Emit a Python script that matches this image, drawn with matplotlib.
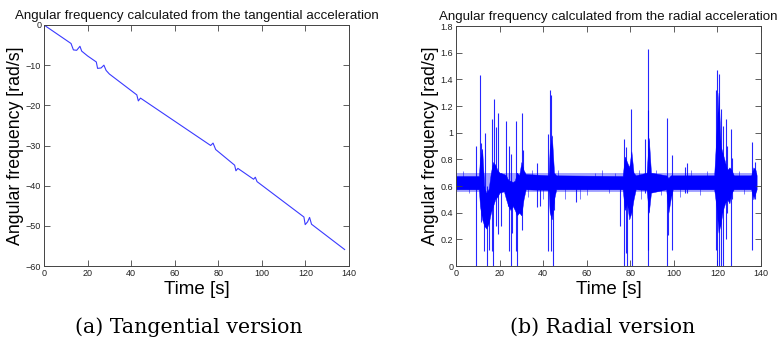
import matplotlib
matplotlib.use("Agg")
import matplotlib.pyplot as plt
import numpy as np

plt.rcParams['font.family'] = ['Liberation Sans', 'DejaVu Sans']

# ---------------- Data: tangential version ----------------
tan_t = [0, 12.4, 13.5, 15.0, 16.5, 17.3, 20, 24.0, 24.6, 26.2, 27.5, 28.5, 30,
         42.6, 43.3, 44.3, 76.5, 77.6, 78.8, 87.5, 88.1, 89.0, 96.2, 97.0, 97.8,
         119.3, 119.9, 121.0, 121.9, 122.8, 138]
tan_w = [0, -4.6, -6.2, -6.3, -5.3, -6.5, -7.7, -9.2, -10.8, -10.7, -10.0, -11.3, -12.2,
         -17.4, -18.9, -18.2, -30.0, -29.4, -31.0, -34.9, -36.3, -35.7, -38.4, -37.9, -39.0,
         -47.8, -49.7, -49.0, -47.9, -49.6, -55.9]

# ---------------- Data: radial version ----------------
# dense noise band (lower / upper envelope)
core_t = [0, 10.5, 11, 12, 13, 14, 15, 16, 17, 18, 19, 20, 22, 23, 24, 25, 26, 27, 28, 29,
          30, 31, 32, 42.5, 43, 44, 45, 46, 76.5, 77.5, 78.5, 79.5, 80.5, 81.5, 82.5,
          87.5, 88.5, 89.5, 96.5, 97.5, 98.5, 99.5, 118.5, 119.5, 120.5, 121.5, 122.5,
          123.5, 124.5, 125.5, 126.5, 127.5, 135.5, 136.5, 137.5, 138]
core_lo = [0.575, 0.575, 0.45, 0.35, 0.30, 0.28, 0.32, 0.40, 0.45, 0.50, 0.52, 0.55, 0.56,
           0.50, 0.45, 0.42, 0.45, 0.42, 0.38, 0.40, 0.38, 0.50, 0.575, 0.57, 0.40, 0.35,
           0.50, 0.575, 0.575, 0.42, 0.47, 0.35, 0.40, 0.50, 0.575, 0.57, 0.40, 0.55,
           0.575, 0.40, 0.50, 0.575, 0.575, 0.45, 0.25, 0.32, 0.42, 0.47, 0.50, 0.47,
           0.55, 0.575, 0.575, 0.50, 0.55, 0.575]
core_hi = [0.675, 0.675, 0.80, 0.88, 0.58, 0.55, 0.58, 0.70, 0.78, 0.76, 0.72, 0.70, 0.69,
           0.68, 0.64, 0.64, 0.63, 0.64, 0.70, 0.68, 0.78, 0.72, 0.69, 0.68, 0.88, 0.98,
           0.70, 0.68, 0.675, 0.82, 0.78, 0.74, 0.86, 0.70, 0.68, 0.70, 0.96, 0.70,
           0.68, 0.66, 0.68, 0.68, 0.68, 0.98, 1.30, 0.90, 0.84, 0.78, 0.72, 0.74,
           0.72, 0.68, 0.68, 0.74, 0.72, 0.68]
# fringe of the noise band
fringe_t = [0, 138]
fringe_lo = [0.555, 0.555]
fringe_hi = [0.695, 0.695]

# large spikes: time, lower end, upper end
spike_t = [9.2, 11.1, 11.6, 12.9, 13.3, 14.0, 15.1, 16.5, 17.1, 17.6, 18.2, 19.1, 20.6,
           23.1, 23.7, 24.3, 25.2, 25.6, 27.6, 28.2, 30.2, 30.7, 37.4, 38.5, 42.3, 43.0,
           43.7, 44.6, 45.2, 55.1, 75.3, 77.1, 78.0, 78.6, 80.2, 80.9, 86.8, 88.0, 88.3,
           96.7, 96.9, 97.4, 99.0, 105.1, 106.0, 119.2, 120.0, 120.6, 121.2, 121.7,
           122.4, 123.9, 124.6, 126.1, 126.8, 135.7, 137.1]
spike_lo = [0.00, 0.55, 0.33, 0.11, 0.30, 0.00, 0.12, 0.11, 0.00, 0.50, 0.30, 0.24, 0.30,
            0.55, 0.45, 0.11, 0.00, 0.25, 0.11, 0.00, 0.27, 0.50, 0.44, 0.45, 0.11, 0.50,
            0.11, 0.00, 0.42, 0.48, 0.30, 0.00, 0.10, 0.00, 0.50, 0.00, 0.55, 0.00, 0.12,
            0.00, 0.55, 0.23, 0.12, 0.55, 0.55, 0.12, 0.00, 0.00, 0.30, 0.00,
            0.00, 0.20, 0.40, 0.00, 0.50, 0.12, 0.50]
spike_hi = [0.90, 1.43, 0.92, 0.60, 1.00, 0.60, 0.55, 1.10, 0.70, 1.25, 1.04, 1.15, 0.70,
            1.09, 0.65, 0.90, 0.84, 0.60, 1.09, 0.70, 1.15, 0.87, 0.77, 0.62, 0.99, 1.32,
            1.28, 0.62, 0.65, 0.62, 0.62, 0.95, 0.89, 0.62, 1.18, 0.62, 0.95, 1.17, 1.63,
            0.62, 1.11, 0.62, 0.83, 0.74, 0.77, 1.32, 1.47, 1.44, 0.83, 1.18,
            1.05, 1.10, 0.90, 1.03, 0.81, 0.93, 0.78]

# small excursions out of the band
minor_t = [3, 6, 33, 35, 40, 47, 50, 57, 60, 64, 67, 70, 73, 84, 85, 92, 94, 103, 108,
           112, 115, 130, 132]
minor_lo = [0.62, 0.55, 0.52, 0.62, 0.50, 0.62, 0.50, 0.50, 0.53, 0.62, 0.62, 0.55, 0.62,
            0.62, 0.50, 0.62, 0.53, 0.52, 0.62, 0.53, 0.62, 0.62, 0.54]
minor_hi = [0.71, 0.62, 0.62, 0.72, 0.62, 0.72, 0.62, 0.62, 0.62, 0.70, 0.72, 0.62, 0.70,
            0.72, 0.62, 0.72, 0.62, 0.62, 0.72, 0.62, 0.71, 0.71, 0.62]

x_ticks = [0, 20, 40, 60, 80, 100, 120, 140]
tan_yticks = [0, -10, -20, -30, -40, -50, -60]
rad_yticks = [0, 0.2, 0.4, 0.6, 0.8, 1, 1.2, 1.4, 1.6, 1.8]
rad_yticklabels = ['0', '0.2', '0.4', '0.6', '0.8', '1', '1.2', '1.4', '1.6', '1.8']

titles = ['Angular frequency calculated from the tangential acceleration',
          'Angular frequency calculated from the radial acceleration']
ylabel = 'Angular frequency [rad/s]'
xlabel = 'Time [s]'
captions = ['(a) Tangential version', '(b) Radial version']

# ---------------- Figure ----------------
W, H = 781, 342
fig = plt.figure(figsize=(W / 100, H / 100), dpi=100)
fig.patch.set_facecolor('white')

def px_axes(x0, x1, y0, y1):
    return fig.add_axes([x0 / W, 1 - y1 / H, (x1 - x0) / W, (y1 - y0) / H])

ax1 = px_axes(44, 349, 25, 266)
ax2 = px_axes(456, 761, 26, 266)

def style(ax):
    for s in ax.spines.values():
        s.set_color('#444444')
        s.set_linewidth(0.7)
    ax.tick_params(direction='in', length=4, width=0.6, colors='#444444',
                   labelsize=6.5, labelcolor='#222222', top=True, right=True, pad=2)
    ax.set_xlim(0, 140)
    ax.set_xticks(x_ticks)

# left
ax1.plot(tan_t, tan_w, color='#3a3aff', lw=0.8)
style(ax1)
ax1.set_ylim(-60, 0)
ax1.set_yticks(tan_yticks)
ax1.set_title(titles[0], fontsize=9.6, pad=4, color='#111111')
ax1.set_ylabel(ylabel, fontsize=12.8, labelpad=1)
ax1.set_xlabel(xlabel, fontsize=13.5, labelpad=2)

# right
ax2.fill_between(fringe_t, fringe_lo, fringe_hi, color='#0000ff', alpha=0.35, lw=0)
ax2.fill_between(core_t, core_lo, core_hi, color='#0000ff', lw=0.3)
ax2.vlines(minor_t, minor_lo, minor_hi, color='#0000ff', lw=0.6, alpha=0.6)
ax2.vlines(spike_t, spike_lo, spike_hi, color='#0000ff', lw=0.8, alpha=0.85)
style(ax2)
ax2.set_ylim(0, 1.8)
ax2.set_yticks(rad_yticks)
ax2.set_yticklabels(rad_yticklabels)
ax2.set_title(titles[1], fontsize=9.6, pad=4, color='#111111')
ax2.set_ylabel(ylabel, fontsize=12.8, labelpad=1)
ax2.set_xlabel(xlabel, fontsize=13.5, labelpad=2)

# captions
for cx, cap in zip([189, 603], captions):
    fig.text(cx / W, 1 - 333 / H, cap, ha='center', va='baseline',
             fontsize=14.8, family=['DejaVu Serif', 'Liberation Serif'])

fig.savefig('out.png', dpi=100, facecolor='white')
